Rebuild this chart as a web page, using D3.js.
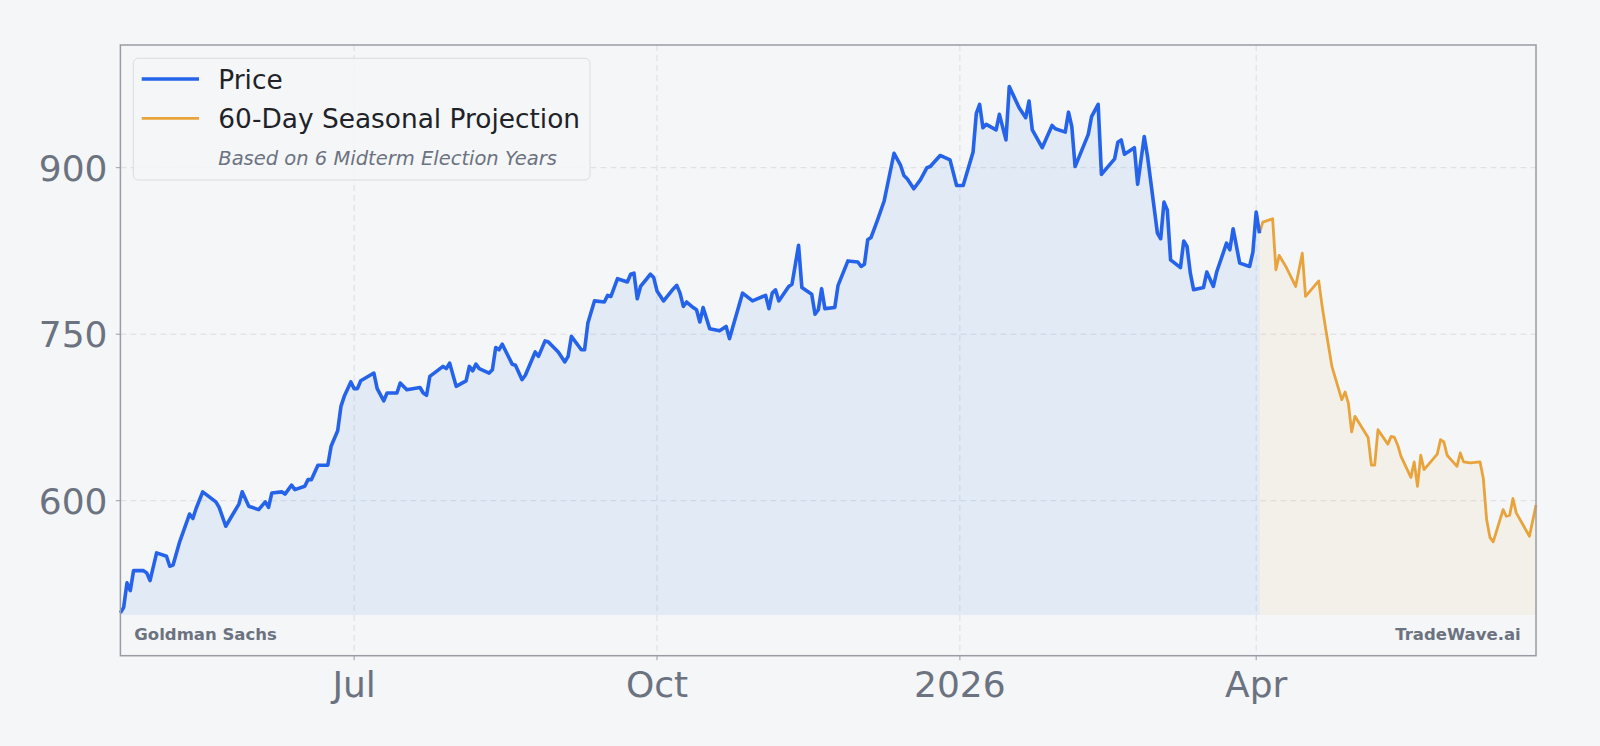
<!DOCTYPE html>
<html>
<head>
    <title>Price with 60-Day Seasonal Projection</title>
    <script src="https://d3js.org/d3.v7.min.js"></script>
    <style>
        body {
            margin: 0;
            padding: 0;
            background: #f5f6f8;
            font-family: "DejaVu Sans", sans-serif;
        }
        svg {
            display: block;
            background: #f5f6f8;
        }
        .tick-label {
            fill: #6b7280;
            font-size: 36px;
        }
        .grid line {
            stroke: #d9dde3;
            stroke-width: 1;
            stroke-dasharray: 6 4;
        }
    </style>
</head>
<body>
    <div id="chart"></div>

    <script>
        const width = 1600;
        const height = 746;
        const margin = { top: 45, right: 64, bottom: 90.3, left: 120.4 };

        // Daily closes
        const priceDates = [
            '2025-04-21', '2025-04-22', '2025-04-23', '2025-04-24', '2025-04-25', '2025-04-28', '2025-04-29', '2025-04-30',
            '2025-05-02', '2025-05-05', '2025-05-06', '2025-05-07', '2025-05-09', '2025-05-12', '2025-05-13', '2025-05-14',
            '2025-05-16', '2025-05-20', '2025-05-21', '2025-05-23', '2025-05-27', '2025-05-28', '2025-05-30',
            '2025-06-02', '2025-06-04', '2025-06-05', '2025-06-06', '2025-06-09', '2025-06-10', '2025-06-12', '2025-06-13',
            '2025-06-16', '2025-06-17', '2025-06-18', '2025-06-20', '2025-06-23', '2025-06-24', '2025-06-25', '2025-06-26',
            '2025-06-27', '2025-06-28', '2025-06-30',
            '2025-07-01', '2025-07-02', '2025-07-03', '2025-07-07', '2025-07-08', '2025-07-10', '2025-07-11', '2025-07-14',
            '2025-07-15', '2025-07-17', '2025-07-21', '2025-07-22', '2025-07-23', '2025-07-24', '2025-07-28', '2025-07-29',
            '2025-07-30',
            '2025-08-01', '2025-08-04', '2025-08-05', '2025-08-06', '2025-08-07', '2025-08-08', '2025-08-11', '2025-08-12',
            '2025-08-13', '2025-08-14', '2025-08-15', '2025-08-18', '2025-08-19', '2025-08-21', '2025-08-22', '2025-08-25',
            '2025-08-26', '2025-08-28', '2025-08-29',
            '2025-09-01', '2025-09-03', '2025-09-04', '2025-09-05', '2025-09-08', '2025-09-09', '2025-09-10', '2025-09-12',
            '2025-09-15', '2025-09-16', '2025-09-17', '2025-09-19', '2025-09-22', '2025-09-23', '2025-09-24', '2025-09-25',
            '2025-09-26', '2025-09-29', '2025-09-30',
            '2025-10-01', '2025-10-03', '2025-10-06', '2025-10-07', '2025-10-08', '2025-10-09', '2025-10-10', '2025-10-12',
            '2025-10-13', '2025-10-14', '2025-10-15', '2025-10-17', '2025-10-20', '2025-10-22', '2025-10-23', '2025-10-27',
            '2025-10-30',
            '2025-11-03', '2025-11-04', '2025-11-05', '2025-11-06', '2025-11-07', '2025-11-10', '2025-11-11', '2025-11-13',
            '2025-11-14', '2025-11-17', '2025-11-18', '2025-11-19', '2025-11-20', '2025-11-21', '2025-11-24', '2025-11-25',
            '2025-11-28',
            '2025-12-01', '2025-12-02', '2025-12-03', '2025-12-04', '2025-12-05', '2025-12-07', '2025-12-09', '2025-12-12',
            '2025-12-14', '2025-12-15', '2025-12-16', '2025-12-18', '2025-12-20', '2025-12-22', '2025-12-23', '2025-12-26',
            '2025-12-29', '2025-12-31',
            '2026-01-02', '2026-01-05', '2026-01-06', '2026-01-07', '2026-01-08', '2026-01-09', '2026-01-12', '2026-01-13',
            '2026-01-15', '2026-01-16', '2026-01-19', '2026-01-21', '2026-01-22', '2026-01-23', '2026-01-26', '2026-01-29',
            '2026-01-30',
            '2026-02-02', '2026-02-03', '2026-02-04', '2026-02-05', '2026-02-09', '2026-02-10', '2026-02-12', '2026-02-13',
            '2026-02-17', '2026-02-18', '2026-02-19', '2026-02-20', '2026-02-23', '2026-02-24', '2026-02-26', '2026-02-27',
            '2026-03-02', '2026-03-03', '2026-03-04', '2026-03-05', '2026-03-06', '2026-03-09', '2026-03-10', '2026-03-11',
            '2026-03-12', '2026-03-13', '2026-03-16', '2026-03-17', '2026-03-19', '2026-03-20', '2026-03-23', '2026-03-24',
            '2026-03-25', '2026-03-27', '2026-03-30', '2026-03-31',
            '2026-04-01', '2026-04-02'
        ];
        const priceValues = [
            499, 504, 526, 519, 537, 537, 535, 528,
            553, 550, 541, 542, 563, 588, 584, 593,
            608, 599, 594, 577, 597, 608, 595,
            592, 599, 594, 607, 608, 606, 614, 610,
            613, 619, 619, 632, 632, 649, 656, 663,
            685, 694, 707,
            701, 701, 708, 715, 701, 690, 697, 697,
            706, 700, 702, 697, 695, 712, 721, 719,
            724,
            703, 708, 721, 717, 723, 719, 715, 718,
            738, 736, 741, 723, 722, 709, 713, 734,
            730, 744, 743,
            734, 725, 730, 748, 736, 736, 760, 780,
            779, 785, 784, 800, 797, 804, 805, 782,
            793, 804, 801,
            789, 780, 791, 794, 787, 775, 779, 774,
            772, 761, 774, 755, 753, 757, 746, 787,
            780,
            785, 773, 787, 790, 780, 793, 795, 830,
            792, 786, 768, 772, 791, 773, 774, 794,
            816,
            815, 811, 813, 835, 837, 853, 870, 913,
            902, 893, 890, 881, 889, 900, 901, 911,
            907, 884,
            884, 914, 949, 957, 936, 939, 934, 948,
            925, 973, 954, 945, 960, 934, 918, 938,
            935,
            932, 950, 937, 901, 930, 946, 957, 894,
            908, 923, 925, 912, 918, 885, 928, 910,
            841, 836, 869, 862, 817, 810, 834, 829,
            805, 790, 792, 806, 793, 806, 832, 826,
            845, 814, 811, 824,
            860, 841
        ];

        // 60-day seasonal projection (midterm election years)
        const projDates = [
            '2026-04-02', '2026-04-03', '2026-04-06', '2026-04-07', '2026-04-08', '2026-04-10', '2026-04-13', '2026-04-15',
            '2026-04-16', '2026-04-20', '2026-04-21', '2026-04-22', '2026-04-24', '2026-04-27', '2026-04-28', '2026-04-29',
            '2026-04-30', '2026-05-01', '2026-05-05', '2026-05-06', '2026-05-07', '2026-05-08', '2026-05-11', '2026-05-12',
            '2026-05-13', '2026-05-14', '2026-05-15', '2026-05-18', '2026-05-19', '2026-05-20', '2026-05-21', '2026-05-22',
            '2026-05-26', '2026-05-27', '2026-05-28', '2026-05-29', '2026-06-01', '2026-06-02', '2026-06-03', '2026-06-05',
            '2026-06-08', '2026-06-09', '2026-06-10', '2026-06-11', '2026-06-12', '2026-06-15', '2026-06-16', '2026-06-17',
            '2026-06-18', '2026-06-19', '2026-06-23', '2026-06-25'
        ];
        const projValues = [
            841, 851, 854, 808, 821, 811, 793, 823,
            784, 798, 776, 757, 721, 691, 698, 688,
            662, 676, 657, 632, 632, 664, 651, 658,
            657, 650, 640, 621, 635, 613, 641, 628,
            642, 655, 653, 641, 631, 643, 635, 634,
            635, 620, 583, 567, 563, 592, 586, 587,
            602, 589, 568, 596
        ];

        const yTicks = [600, 750, 900];
        const xTickDates = ['2025-07-01', '2025-10-01', '2026-01-01', '2026-04-01'];
        const xTickLabels = ['Jul', 'Oct', '2026', 'Apr'];
        const fillBase = 497;

        const parse = d3.utcParse('%Y-%m-%d');
        const price = priceDates.map((d, i) => ({ date: parse(d), value: priceValues[i] }));
        const proj = projDates.map((d, i) => ({ date: parse(d), value: projValues[i] }));

        const svg = d3.select('#chart')
            .append('svg')
            .attr('width', width)
            .attr('height', height);

        const x = d3.scaleUtc()
            .domain([price[0].date, proj[proj.length - 1].date])
            .range([margin.left, width - margin.right]);

        const y = d3.scaleLinear()
            .domain([460.4, 1010.5])
            .range([height - margin.bottom, margin.top]);

        // Grid
        const grid = svg.append('g').attr('class', 'grid');
        grid.selectAll('.hgrid')
            .data(yTicks)
            .join('line')
            .attr('x1', margin.left)
            .attr('x2', width - margin.right)
            .attr('y1', d => y(d))
            .attr('y2', d => y(d));
        grid.selectAll('.vgrid')
            .data(xTickDates)
            .join('line')
            .attr('x1', d => x(parse(d)))
            .attr('x2', d => x(parse(d)))
            .attr('y1', margin.top)
            .attr('y2', height - margin.bottom);

        // Fills
        const area = d3.area()
            .x(d => x(d.date))
            .y0(y(fillBase))
            .y1(d => y(d.value));

        svg.append('path')
            .datum(price)
            .attr('d', area)
            .attr('fill', '#3d8ae0')
            .attr('fill-opacity', 0.1);

        svg.append('path')
            .datum(proj)
            .attr('d', area)
            .attr('fill', '#e8a33a')
            .attr('fill-opacity', 0.08);

        // Lines
        const line = d3.line()
            .x(d => x(d.date))
            .y(d => y(d.value));

        svg.append('path')
            .datum(proj)
            .attr('d', line)
            .attr('fill', 'none')
            .attr('stroke', '#e8a33a')
            .attr('stroke-width', 2.8)
            .attr('stroke-linejoin', 'round');

        svg.append('path')
            .datum(price)
            .attr('d', line)
            .attr('fill', 'none')
            .attr('stroke', '#2563eb')
            .attr('stroke-width', 3.6)
            .attr('stroke-linejoin', 'round');

        // Frame
        svg.append('rect')
            .attr('x', margin.left)
            .attr('y', margin.top)
            .attr('width', width - margin.left - margin.right)
            .attr('height', height - margin.top - margin.bottom)
            .attr('fill', 'none')
            .attr('stroke', '#9a9ca4')
            .attr('stroke-width', 1.5);

        // Axes
        const yAxis = svg.append('g');
        yAxis.selectAll('line')
            .data(yTicks)
            .join('line')
            .attr('x1', margin.left - 4.5)
            .attr('x2', margin.left)
            .attr('y1', d => y(d))
            .attr('y2', d => y(d))
            .attr('stroke', '#9a9ca4')
            .attr('stroke-width', 1);
        yAxis.selectAll('text')
            .data(yTicks)
            .join('text')
            .attr('class', 'tick-label')
            .attr('x', 107.5)
            .attr('y', d => y(d))
            .attr('dy', '0.36em')
            .attr('text-anchor', 'end')
            .text(d => d);

        const xAxis = svg.append('g');
        xAxis.selectAll('line')
            .data(xTickDates)
            .join('line')
            .attr('x1', d => x(parse(d)))
            .attr('x2', d => x(parse(d)))
            .attr('y1', height - margin.bottom)
            .attr('y2', height - margin.bottom + 4.5)
            .attr('stroke', '#9a9ca4')
            .attr('stroke-width', 1);
        xAxis.selectAll('text')
            .data(xTickDates)
            .join('text')
            .attr('class', 'tick-label')
            .attr('x', d => x(parse(d)))
            .attr('y', 696.5)
            .attr('text-anchor', 'middle')
            .text((d, i) => xTickLabels[i]);

        // Legend
        const legend = svg.append('g');
        legend.append('rect')
            .attr('x', 133.3)
            .attr('y', 58.3)
            .attr('width', 456.7)
            .attr('height', 121.7)
            .attr('rx', 5)
            .attr('fill', '#f5f6f8')
            .attr('fill-opacity', 0.85)
            .attr('stroke', '#d9dce1')
            .attr('stroke-width', 1);
        legend.append('line')
            .attr('x1', 141.7).attr('x2', 199)
            .attr('y1', 79).attr('y2', 79)
            .attr('stroke', '#2563eb')
            .attr('stroke-width', 3.6);
        legend.append('line')
            .attr('x1', 141.7).attr('x2', 199)
            .attr('y1', 118.3).attr('y2', 118.3)
            .attr('stroke', '#e8a33a')
            .attr('stroke-width', 2.8);
        legend.append('text')
            .attr('x', 218.3).attr('y', 89.3)
            .attr('font-size', 26.4).attr('fill', '#1f2328')
            .text('Price');
        legend.append('text')
            .attr('x', 218.3).attr('y', 128.3)
            .attr('font-size', 26.4).attr('fill', '#1f2328')
            .text('60-Day Seasonal Projection');
        legend.append('text')
            .attr('x', 218.3).attr('y', 165)
            .attr('font-size', 19.5).attr('font-style', 'italic').attr('fill', '#6b7280')
            .text('Based on 6 Midterm Election Years');

        // Watermarks
        svg.append('text')
            .attr('x', 134.3).attr('y', 640)
            .attr('font-size', 16.5).attr('font-weight', 'bold').attr('fill', '#6b7280')
            .text('Goldman Sachs');
        svg.append('text')
            .attr('x', 1520.7).attr('y', 640)
            .attr('text-anchor', 'end')
            .attr('font-size', 16.5).attr('font-weight', 'bold').attr('fill', '#6b7280')
            .text('TradeWave.ai');
    </script>
</body>
</html>
